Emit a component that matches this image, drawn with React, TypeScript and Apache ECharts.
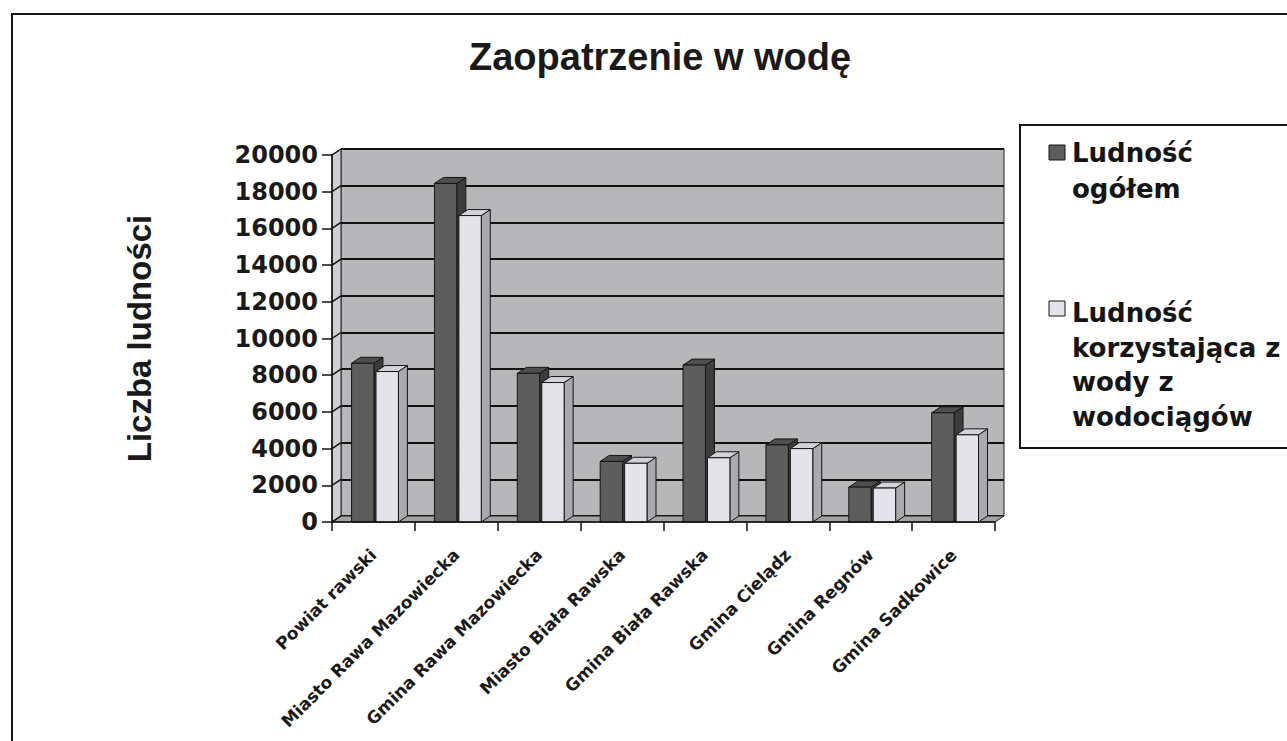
import React, { useEffect, useRef } from "react";
import * as echarts from "echarts";

const CATEGORIES = [
  "Powiat rawski",
  "Miasto Rawa Mazowiecka",
  "Gmina Rawa Mazowiecka",
  "Miasto Biała Rawska",
  "Gmina Biała Rawska",
  "Gmina Cielądz",
  "Gmina Regnów",
  "Gmina Sadkowice",
];
const SERIES_NAMES = ["Ludność ogółem", "Ludność korzystająca z wody z wodociągów"];
const LEGEND_LINES = [
  ["Ludność", "ogółem"],
  ["Ludność", "korzystająca z", "wody z", "wodociągów"],
];
const TOTAL = [8650, 18450, 8100, 3300, 8550, 4200, 1900, 5950];
const WATER = [8200, 16700, 7600, 3200, 3500, 4000, 1850, 4750];
const Y_TICKS = [0, 2000, 4000, 6000, 8000, 10000, 12000, 14000, 16000, 18000, 20000];
const TITLE = "Zaopatrzenie w wodę";
const Y_NAME = "Liczba ludności";

// layout
const GL = 332, GT = 155, GW = 663, GH = 367;
const DX = 9, DY = -6;
const WIDE = "'DejaVu Sans', sans-serif";
const ARIAL = "'Liberation Sans', Arial, sans-serif";

const FACE = [
  { front: "#5d5d5d", top: "#4e4e4e", side: "#3c3c3c" },
  { front: "#e3e3e9", top: "#d2d2d8", side: "#a9a9ae" },
];

function barRenderer(s: number) {
  return (params: any, api: any) => {
    const idx = api.value(0);
    const v = api.value(1);
    const base = api.coord([idx, 0]);
    const top = api.coord([idx, v]);
    const bw = api.size([1, 0])[0];
    const w = bw * 0.27;
    const x0 = base[0] - bw / 2 + bw * (s === 0 ? 0.236 : 0.531);
    const yT = top[1];
    const yB = base[1];
    const c = FACE[s];
    const st = (fill: string) => ({ fill, stroke: "#151515", lineWidth: 1, lineJoin: "round" });
    return {
      type: "group",
      children: [
        { type: "polygon", shape: { points: [[x0 + w, yT], [x0 + w + DX, yT + DY], [x0 + w + DX, yB + DY], [x0 + w, yB]] }, style: st(c.side) },
        { type: "polygon", shape: { points: [[x0, yT], [x0 + w, yT], [x0 + w + DX, yT + DY], [x0 + DX, yT + DY]] }, style: st(c.top) },
        { type: "rect", shape: { x: x0, y: yT, width: w, height: yB - yT }, style: st(c.front) },
      ],
    };
  };
}

function legendGroup(i: number, iconY: number, textY: number, lh: number) {
  return {
    type: "group",
    z: 5,
    children: [
      {
        type: "rect",
        shape: { x: 1049, y: iconY, width: 16, height: 15 },
        style: { fill: FACE[i].front, stroke: "#151515", lineWidth: 1 },
      },
      {
        type: "text",
        x: 1072,
        y: textY,
        style: {
          text: LEGEND_LINES[i].join("\n"),
          font: `bold 26px ${WIDE}`,
          fill: "#151515",
          lineHeight: lh,
          verticalAlign: "top",
          align: "left",
        },
      },
    ],
  };
}

export default function App() {
  const ref = useRef<HTMLDivElement>(null);
  useEffect(() => {
    if (!ref.current) return;
    const chart = echarts.init(ref.current, undefined, { renderer: "svg" });
    const option: any = {
      animation: false,
      backgroundColor: "#ffffff",
      title: {
        text: TITLE,
        left: 464,
        top: 33,
        textStyle: { fontFamily: ARIAL, fontWeight: "bold", fontSize: 38, color: "#1a1a1a" },
      },
      graphic: [
        { type: "rect", z: 0, shape: { x: 12, y: 14, width: 1300, height: 760 }, style: { fill: "none", stroke: "#151515", lineWidth: 2 } },
        { type: "rect", z: 0, shape: { x: 1020, y: 125, width: 300, height: 323 }, style: { fill: "#ffffff", stroke: "#151515", lineWidth: 2 } },
        {
          type: "polygon", z: 1,
          shape: { points: [[GL, GT + GH], [GL, GT], [GL + DX, GT + DY], [GL + DX, GT + GH + DY]] },
          style: { fill: "#cfcfd3", stroke: "#222", lineWidth: 1 },
        },
        {
          type: "polygon", z: 1,
          shape: { points: [[GL, GT + GH], [GL + GW, GT + GH], [GL + GW + DX, GT + GH + DY], [GL + DX, GT + GH + DY]] },
          style: { fill: "#a3a3a3", stroke: "#222", lineWidth: 1 },
        },
        legendGroup(0, 145, 135, 36),
        legendGroup(1, 301, 296, 34.5),
      ],
      grid: [
        { left: GL, top: GT, width: GW, height: GH, containLabel: false, outerBoundsMode: "none" },
        {
          left: GL + DX, top: GT + DY, width: GW, height: GH, show: true, outerBoundsMode: "none",
          backgroundColor: "#b7b7b9", borderColor: "#222", borderWidth: 1, z: 0,
        },
      ],
      xAxis: [
        {
          type: "category", gridIndex: 0, data: CATEGORIES, z: 4,
          axisLine: { show: true, lineStyle: { color: "#111", width: 1.5 } },
          axisTick: { show: true, length: 9, lineStyle: { color: "#111", width: 1.5 } },
          axisLabel: {
            interval: 0, rotate: 45, margin: 30,
            fontFamily: WIDE, fontWeight: "bold", fontSize: 17, color: "#1a1a1a",
          },
          splitLine: { show: false },
        },
        { type: "category", gridIndex: 1, data: CATEGORIES, show: false },
      ],
      yAxis: [
        {
          type: "value", gridIndex: 0, min: 0, max: 20000, interval: 2000, z: 4,
          name: Y_NAME, nameLocation: "middle", nameRotate: 90, nameGap: 176,
          nameTextStyle: { fontFamily: ARIAL, fontWeight: "bold", fontSize: 33, color: "#1a1a1a" },
          axisLine: { show: true, lineStyle: { color: "#111", width: 1.5 } },
          axisTick: { show: true, length: 10, lineStyle: { color: "#111", width: 1.5 } },
          axisLabel: {
            margin: 14, fontFamily: WIDE, fontWeight: "bold", fontSize: 24, color: "#1a1a1a",
            formatter: (v: number) => String(v),
          },
          splitLine: { show: false },
        },
        {
          type: "value", gridIndex: 1, min: 0, max: 20000, interval: 2000,
          axisLine: { show: false }, axisTick: { show: false }, axisLabel: { show: false },
          splitLine: { show: true, lineStyle: { color: "#111", width: 2 } },
        },
      ],
      series: [
        {
          type: "custom", name: "sidewall", xAxisIndex: 0, yAxisIndex: 0, z: 2, silent: true,
          data: Y_TICKS.map((v) => [0, v]),
          renderItem: (params: any, api: any) => {
            const p = api.coord([0, api.value(1)]);
            const bw = api.size([1, 0])[0];
            const x0 = p[0] - bw / 2;
            return {
              type: "line",
              shape: { x1: x0, y1: p[1], x2: x0 + DX, y2: p[1] + DY },
              style: { stroke: "#111", lineWidth: 1.5 },
            };
          },
        },
        {
          type: "custom", name: SERIES_NAMES[0], xAxisIndex: 0, yAxisIndex: 0, z: 3,
          data: TOTAL.map((v, i) => [i, v]),
          encode: { x: 0, y: 1 },
          itemStyle: { color: FACE[0].front },
          renderItem: barRenderer(0),
        },
        {
          type: "custom", name: SERIES_NAMES[1], xAxisIndex: 0, yAxisIndex: 0, z: 3,
          data: WATER.map((v, i) => [i, v]),
          encode: { x: 0, y: 1 },
          itemStyle: { color: FACE[1].front },
          renderItem: barRenderer(1),
        },
      ],
    };
    chart.setOption(option);
    return () => chart.dispose();
  }, []);
  return (
    <div
      ref={ref}
      style={{ position: "absolute", left: 0, top: 0, width: 1287, height: 741 }}
    />
  );
}
